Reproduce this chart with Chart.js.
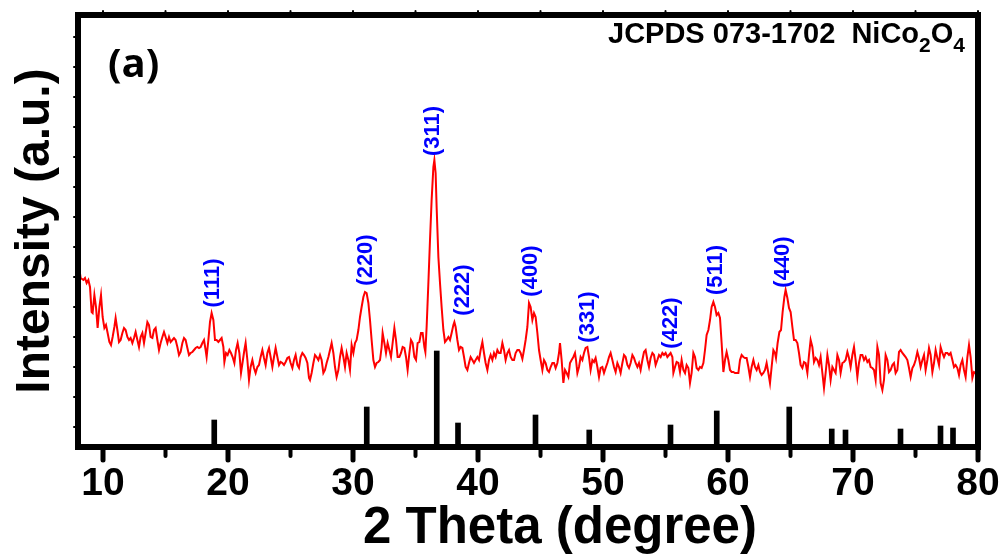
<!DOCTYPE html>
<html><head><meta charset="utf-8">
<script src="https://cdn.jsdelivr.net/npm/chart.js@4.4.0/dist/chart.umd.min.js"></script>
<style>html,body{margin:0;padding:0;background:#fff;}#wrap{width:1003px;height:554px;}</style>
</head><body><div id="wrap"><canvas id="c" width="1003" height="554"></canvas></div>
<script>
// ---- measured XRD pattern (2θ in degrees, intensity in a.u.) ----
const twoTheta = [
8.03,8.21,8.43,8.56,8.69,8.83,8.96,9.09,9.17,9.31,
9.44,9.57,9.71,9.84,9.97,10.11,10.24,10.37,10.51,10.64,
10.77,10.91,11.01,11.15,11.28,11.41,11.55,11.68,11.81,11.95,
12.08,12.21,12.35,12.48,12.61,12.75,12.88,13.01,13.15,13.28,
13.41,13.55,13.68,13.81,13.95,14.08,14.21,14.35,14.48,14.61,
14.75,14.88,15.01,15.15,15.28,15.41,15.55,15.68,15.81,15.95,
16.08,16.21,16.35,16.48,16.61,16.75,16.88,17.01,17.15,17.28,
17.41,17.55,17.68,17.81,17.95,18.08,18.21,18.29,18.43,18.56,
18.69,18.83,18.96,19.09,19.23,19.36,19.49,19.63,19.71,19.84,
19.97,20.11,20.24,20.37,20.51,20.64,20.77,20.91,21.04,21.17,
21.31,21.41,21.55,21.68,21.81,21.95,22.08,22.21,22.35,22.48,
22.61,22.75,22.88,23.01,23.15,23.28,23.41,23.55,23.68,23.81,
23.95,24.08,24.21,24.35,24.48,24.61,24.75,24.88,25.01,25.15,
25.28,25.41,25.55,25.68,25.81,25.95,26.08,26.21,26.35,26.48,
26.56,26.69,26.83,26.96,27.09,27.23,27.36,27.49,27.63,27.76,
27.89,28.03,28.16,28.29,28.43,28.56,28.69,28.83,28.96,29.09,
29.23,29.36,29.49,29.63,29.76,29.89,30.03,30.16,30.29,30.43,
30.56,30.69,30.83,30.96,31.09,31.23,31.36,31.49,31.63,31.76,
31.89,32.03,32.16,32.29,32.37,32.51,32.64,32.77,32.91,33.04,
33.17,33.31,33.44,33.57,33.71,33.84,33.97,34.11,34.24,34.37,
34.51,34.64,34.77,34.91,35.04,35.17,35.31,35.44,35.57,35.71,
35.79,35.89,36.03,36.16,36.29,36.43,36.51,36.61,36.69,36.83,
36.96,37.09,37.23,37.36,37.49,37.63,37.76,37.89,38.03,38.11,
38.21,38.35,38.48,38.61,38.75,38.88,39.01,39.15,39.28,39.41,
39.55,39.68,39.81,39.95,40.08,40.21,40.35,40.48,40.61,40.75,
40.88,41.01,41.15,41.28,41.41,41.55,41.68,41.81,41.95,42.08,
42.21,42.35,42.48,42.61,42.75,42.88,43.01,43.15,43.28,43.41,
43.55,43.68,43.81,43.95,44.08,
44.21,44.35,44.48,44.61,44.75,44.88,45.01,45.15,45.28,45.41,
45.55,45.68,45.81,45.95,46.08,46.21,46.35,46.48,46.56,46.69,
46.83,46.96,47.09,47.23,47.36,47.49,47.63,47.76,47.84,47.95,
48.08,48.21,48.35,48.48,48.61,48.75,48.88,49.01,49.15,49.28,
49.41,49.55,49.68,49.81,49.95,50.08,50.21,50.35,50.48,50.61,
50.75,50.88,51.01,51.15,51.28,51.41,51.55,51.68,51.81,51.95,
52.08,52.21,52.35,52.48,52.61,52.75,52.88,53.01,53.15,53.28,
53.41,53.55,53.68,53.81,53.95,54.08,54.21,54.35,54.48,54.61,
54.75,54.88,55.01,55.15,55.28,55.41,55.55,55.63,55.76,55.89,
56.03,56.16,56.29,56.43,56.56,56.69,56.83,56.96,57.09,57.23,
57.36,57.49,57.63,57.76,57.89,58.03,58.16,58.29,58.43,58.56,
58.69,58.83,58.96,59.09,59.23,59.36,59.49,59.63,59.76,59.89,
60.03,60.16,60.29,60.43,60.56,60.69,60.83,60.96,61.09,61.23,
61.36,61.49,61.63,61.76,61.89,62.03,62.16,62.29,62.43,
62.56,62.69,62.83,62.96,63.09,63.23,63.36,63.49,63.63,63.76,
63.84,63.97,64.11,64.24,64.37,64.51,64.61,64.75,64.88,65.01,
65.15,65.28,65.41,65.55,65.68,65.81,65.95,66.08,66.21,66.35,
66.48,66.61,66.75,66.88,67.01,67.15,67.28,67.41,67.55,67.68,
67.81,67.95,68.08,68.21,68.35,68.48,68.61,68.75,68.88,69.01,
69.15,69.28,69.41,69.55,69.68,69.81,69.95,70.08,70.21,70.35,
70.48,70.61,70.75,70.88,71.01,71.15,71.28,71.41,71.55,71.68,
71.81,71.95,72.08,72.21,72.35,72.48,72.61,72.75,72.88,73.01,
73.15,73.28,73.41,73.55,73.68,73.81,73.95,74.08,74.21,74.35,
74.48,74.61,74.75,74.88,75.01,75.15,75.28,75.41,75.55,75.68,
75.81,75.95,76.08,76.21,76.35,76.48,76.61,76.75,76.88,77.01,
77.15,77.28,77.41,77.55,77.68,77.81,77.95,78.08,78.21,78.35,
78.48,78.61,78.75,78.88,79.01,79.15,79.28,79.41,79.55,79.68,
79.81,79.95
];
const intensity = [
185,169,167,169,164,167,160,135,134,152,
140,119,140,152,130,119,122,114,105,102,
110,120,129,117,105,107,114,119,117,110,
107,109,104,109,115,107,100,110,114,104,
114,125,122,110,109,117,119,107,97,104,
110,115,110,104,110,105,107,109,107,100,
92,95,104,109,107,99,92,94,95,97,
99,100,99,100,104,107,97,90,107,125,
134,127,107,107,105,107,109,100,85,94,
92,97,94,90,84,97,104,94,74,85,
97,104,87,67,80,87,79,74,80,82,
90,97,89,82,94,99,90,80,90,99,
90,82,85,84,82,85,89,90,84,79,
87,92,82,79,90,94,92,89,84,69,
67,74,84,92,90,87,92,87,74,77,
84,90,97,104,94,80,70,77,90,99,
90,80,94,87,77,102,94,104,107,117,
130,140,150,155,154,144,127,107,87,80,
84,85,87,100,114,104,94,104,97,90,
104,119,107,90,90,94,100,99,90,77,
94,107,104,90,87,104,105,114,114,100,
95,120,164,207,247,280,287,274,240,190,
164,140,117,105,107,110,107,114,122,125,
120,107,97,100,99,90,80,77,84,90,
87,84,87,90,87,97,105,94,84,77,
87,92,87,94,90,97,94,94,104,97,
87,94,97,90,87,87,94,97,97,94,
88,97,107,120,144,
140,127,134,130,114,97,87,77,87,84,
77,75,80,84,84,79,84,94,104,87,
64,77,74,70,84,87,90,94,87,74,
80,90,87,94,99,100,90,77,87,85,
89,80,70,79,80,74,79,84,90,94,
87,80,75,84,80,74,84,92,90,82,
79,84,92,89,84,80,84,77,87,95,
97,87,80,89,94,92,82,87,92,90,
94,92,94,90,92,94,90,74,80,85,
84,75,87,77,74,82,79,64,74,94,
90,79,77,80,79,84,97,112,117,127,
140,145,140,132,134,129,104,75,87,95,
87,77,75,75,74,74,74,87,92,90,
89,89,80,70,80,87,80,77,82,
75,72,74,77,84,74,64,80,97,94,
89,104,115,117,135,150,157,149,139,135,
120,107,107,104,94,82,79,85,84,74,
92,107,100,85,89,87,82,90,74,59,
74,92,82,67,80,77,74,92,87,74,
84,85,87,95,89,80,92,100,87,70,
84,92,92,87,90,85,87,80,79,77,
67,100,92,64,57,67,92,87,75,77,
82,84,74,77,95,97,94,92,90,87,
79,70,79,82,87,95,89,80,87,92,
77,87,99,92,75,84,97,89,82,100,
94,90,94,94,92,94,87,80,82,79,
72,82,87,77,70,90,102,90,69,75,
74,75
];
// ---- JCPDS 073-1702 reference lines ----
const refPos    = [18.9, 31.1, 36.7, 38.4, 44.6, 48.9, 55.4, 59.1, 64.9, 68.3, 69.4, 73.8, 77.0, 78.0];
const refHeight = [27, 40, 96, 24, 32, 17, 22, 36, 40, 18, 17, 18, 21, 19];
// ---- peak index labels ----
const hklLabels = ['(111)','(220)','(311)','(222)','(400)','(331)','(422)','(511)','(440)'];
const hklX      = [18.8, 31.04, 36.4, 38.8, 44.24, 48.76, 55.4, 59.04, 64.4];
const hklY      = [164, 187, 316, 157, 176, 130, 124, 177, 185];
// ---- axis ticks & titles ----
const xMajorTicks = [10, 20, 30, 40, 50, 60, 70, 80];
const xMinorTicks = [15, 25, 35, 45, 55, 65, 75];
const yMinorTicks = [20, 50, 80, 110, 140, 170, 200, 230, 260, 290, 320, 350, 380, 410];
const xTitle = '2 Theta (degree)';
const yTitle = 'Intensity (a.u.)';

const FONT = '"Liberation Sans", Arial, sans-serif';

const decorPlugin = {
  id: 'decor',
  afterDatasetsDraw(chart) {
    const {ctx, chartArea: a, scales: {x, y}} = chart;
    ctx.save();
    ctx.strokeStyle = '#000';
    ctx.lineCap = 'round';
    ctx.lineWidth = 5;
    xMajorTicks.forEach(v => { const p = x.getPixelForValue(v); ctx.beginPath(); ctx.moveTo(p, a.bottom); ctx.lineTo(p, a.bottom + 13); ctx.stroke(); });
    ctx.lineWidth = 4;
    xMinorTicks.forEach(v => { const p = x.getPixelForValue(v); ctx.beginPath(); ctx.moveTo(p, a.bottom); ctx.lineTo(p, a.bottom + 9); ctx.stroke(); });
    ctx.lineWidth = 2;
    xMajorTicks.concat(xMinorTicks).forEach(v => { const p = x.getPixelForValue(v); ctx.beginPath(); ctx.moveTo(p, a.top); ctx.lineTo(p, a.top - 4); ctx.stroke(); });
    yMinorTicks.forEach(v => { const p = y.getPixelForValue(v); ctx.beginPath(); ctx.moveTo(a.left, p); ctx.lineTo(a.left - 4, p); ctx.stroke(); });
    // frame
    ctx.lineCap = 'butt';
    ctx.lineJoin = 'miter';
    ctx.lineWidth = 6;
    ctx.strokeRect(a.left, a.top, a.right - a.left, a.bottom - a.top);
    // hkl labels
    ctx.fillStyle = '#0000ff';
    ctx.font = 'bold 22px ' + FONT;
    ctx.textAlign = 'center';
    ctx.textBaseline = 'middle';
    hklLabels.forEach((t, i) => {
      ctx.save();
      ctx.translate(x.getPixelForValue(hklX[i]), y.getPixelForValue(hklY[i]));
      ctx.rotate(-Math.PI / 2);
      ctx.fillText(t, 0, 0);
      ctx.restore();
    });
    // x axis title (offset to the right as in the original figure)
    ctx.fillStyle = '#000';
    ctx.textAlign = 'center';
    ctx.textBaseline = 'alphabetic';
    ctx.font = 'bold 51px ' + FONT;
    ctx.fillText(xTitle, a.left + 482, a.bottom + 96);
    // panel label
    ctx.textAlign = 'left';
    ctx.font = 'bold 40px "Open Sans", ' + FONT;
    ctx.fillText('(a)', a.left + 30, a.top + 62);
    // JCPDS card caption with subscripts
    const big = 'bold 29px ' + FONT, small = 'bold 21px ' + FONT;
    const parts = [['JCPDS 073-1702  NiCo', big, 0], ['2', small, 9], ['O', big, 0], ['4', small, 9]];
    let total = 0;
    parts.forEach(p => { ctx.font = p[1]; total += ctx.measureText(p[0]).width; });
    let cx = a.right - 13 - total;
    const base = a.top + 28;
    parts.forEach(p => { ctx.font = p[1]; ctx.fillText(p[0], cx, base + p[2]); cx += ctx.measureText(p[0]).width; });
    ctx.restore();
  }
};

new Chart(document.getElementById('c'), {
  type: 'line',
  data: {
    datasets: [
      {
        type: 'line',
        label: 'NiCo2O4',
        data: twoTheta.map((t, i) => ({x: t, y: intensity[i]})),
        borderColor: '#ff0000',
        borderWidth: 2,
        pointRadius: 0,
        tension: 0,
        fill: false,
        order: 1
      },
      {
        type: 'bar',
        label: 'JCPDS 073-1702',
        data: refPos.map((t, i) => ({x: t, y: refHeight[i]})),
        backgroundColor: '#000',
        borderWidth: 0,
        barThickness: 5,
        grouped: false,
        order: 2
      }
    ]
  },
  options: {
    responsive: false,
    animation: false,
    devicePixelRatio: 1,
    layout: {padding: {top: 15, right: 25, bottom: 0, left: 0}},
    plugins: {legend: {display: false}, tooltip: {enabled: false}},
    scales: {
      x: {
        type: 'linear', min: 8, max: 80, position: 'bottom', offset: false,
        afterBuildTicks: s => { s.ticks = xMajorTicks.map(v => ({value: v})); },
        afterFit: s => { s.height = 107; s.paddingLeft = 0; s.paddingRight = 0; },
        grid: {display: false, drawTicks: false, offset: false},
        border: {display: false},
        ticks: {font: {family: FONT, size: 39, weight: 'bold', lineHeight: 1}, color: '#000', padding: 18, maxRotation: 0, autoSkip: false},
        title: {display: false, text: xTitle}
      },
      y: {
        type: 'linear', min: 0, max: 432, position: 'left',
        afterFit: s => { s.width = 78; },
        ticks: {display: false},
        grid: {display: false, drawTicks: false},
        border: {display: false},
        title: {display: true, text: yTitle, color: '#000', font: {family: FONT, size: 48, weight: 'bold', lineHeight: 1}, padding: {top: 12, bottom: 0}}
      }
    }
  },
  plugins: [decorPlugin]
});
</script>
</body></html>
